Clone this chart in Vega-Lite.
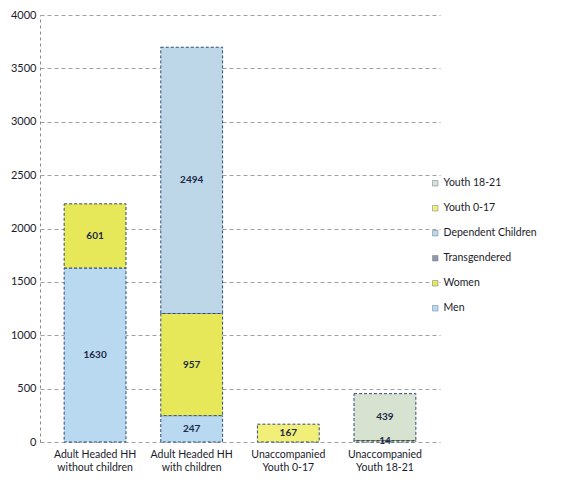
{
  "$schema": "https://vega.github.io/schema/vega-lite/v6.json",
  "width": 400,
  "height": 427,
  "autosize": {"type": "none"},
  "padding": {"left": 40, "top": 15, "right": 129, "bottom": 43},
  "background": "white",
  "config": {
    "view": {"stroke": null},
    "font": "Lato"
  },
  "data": {
    "values": [
      {"group": "Adult Headed HH|without children", "cat": "Men", "value": 1630, "ord": 1},
      {"group": "Adult Headed HH|without children", "cat": "Women", "value": 601, "ord": 2},
      {"group": "Adult Headed HH|with children", "cat": "Men", "value": 247, "ord": 1},
      {"group": "Adult Headed HH|with children", "cat": "Women", "value": 957, "ord": 2},
      {"group": "Adult Headed HH|with children", "cat": "Dependent Children", "value": 2494, "ord": 4},
      {"group": "Unaccompanied|Youth 0-17", "cat": "Youth 0-17", "value": 167, "ord": 5},
      {"group": "Unaccompanied|Youth 18-21", "cat": "Youth 0-17", "value": 14, "ord": 5},
      {"group": "Unaccompanied|Youth 18-21", "cat": "Youth 18-21", "value": 439, "ord": 6}
    ]
  },
  "transform": [
    {"stack": "value", "groupby": ["group"], "sort": [{"field": "ord", "order": "ascending"}], "as": ["y0", "y1"]},
    {"calculate": "(datum.y0 + datum.y1) / 2", "as": "ymid"}
  ],
  "encoding": {
    "x": {
      "field": "group",
      "type": "nominal",
      "sort": null,
      "scale": {"paddingInner": 0.36, "paddingOuter": 0.25},
      "axis": {
        "title": null,
        "labelAngle": 0,
        "labelExpr": "split(datum.value, '|')",
        "labelFontSize": 10.5,
        "labelColor": "#1a1a2a",
        "labelPadding": 7,
        "labelLineHeight": 13,
        "domain": false,
        "ticks": false
      }
    }
  },
  "layer": [
    {
      "mark": {"type": "bar", "stroke": "#2f4a78", "strokeWidth": 1, "strokeDash": [3, 2]},
      "encoding": {
        "y": {
          "field": "y0",
          "type": "quantitative",
          "scale": {"domain": [0, 4000], "nice": false},
          "axis": {
            "title": null,
            "values": [0, 500, 1000, 1500, 2000, 2500, 3000, 3500, 4000],
            "format": "d",
            "labelFontSize": 11,
            "labelColor": "#1a1a2a",
            "labelPadding": 4,
            "tickSize": 0,
            "domain": true,
            "domainColor": "#888",
            "domainDash": [3, 3],
            "grid": true,
            "gridColor": "#888",
            "gridDash": [4, 3],
            "gridWidth": 0.8
          }
        },
        "y2": {"field": "y1"},
        "color": {
          "field": "cat",
          "type": "nominal",
          "scale": {
            "domain": ["Youth 18-21", "Youth 0-17", "Dependent Children", "Transgendered", "Women", "Men"],
            "range": ["#d7e2d0", "#f2ef78", "#bdd7e8", "#8f9aa6", "#e6e85a", "#b9d9f0"]
          },
          "legend": {
            "title": null,
            "orient": "none",
            "legendX": 390,
            "legendY": 163,
            "symbolType": "square",
            "symbolSize": 30,
            "symbolStrokeColor": "#6a7890",
            "symbolStrokeWidth": 0.5,
            "labelFontSize": 10.5,
            "labelColor": "#1a1a2a",
            "rowPadding": 14,
            "labelOffset": 3
          }
        }
      }
    },
    {
      "mark": {"type": "text", "fontSize": 10, "fontWeight": "bold", "color": "#1c2a48"},
      "encoding": {
        "y": {"field": "ymid", "type": "quantitative"},
        "text": {"field": "value", "type": "quantitative"}
      }
    }
  ]
}
